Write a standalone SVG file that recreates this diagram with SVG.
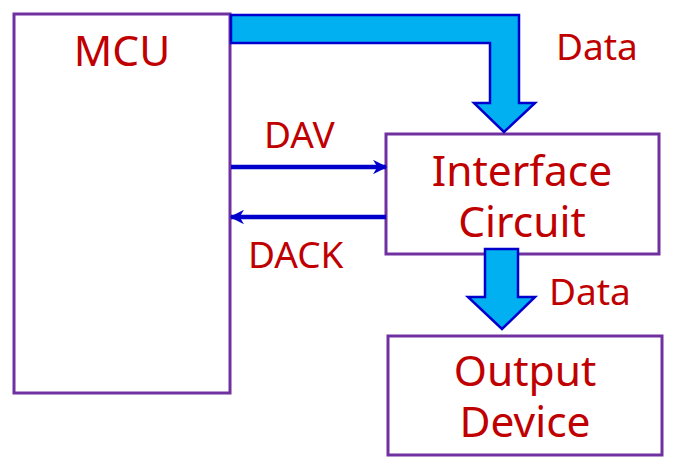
<svg xmlns="http://www.w3.org/2000/svg" width="675" height="468" viewBox="0 0 675 468">
<defs>
<style>
.box{fill:#fff;stroke:#7030A0;stroke-width:3}
.t{font-family:"Noto Sans","Open Sans",sans-serif;fill:#C00000}
.big{font-size:42.5px;text-anchor:middle}
.lab{font-size:37px}
.fat{fill:#00B0F0;stroke:#0000CC;stroke-width:2.5;stroke-linejoin:miter}
.sig{stroke:#0000CC;stroke-width:4.5;fill:none}
</style>
<marker id="ah" viewBox="0 0 10 10" refX="9" refY="5" markerWidth="3.2" markerHeight="3.2" orient="auto" markerUnits="strokeWidth">
<path d="M0,0 L10,5 L0,10 L3,5 Z" fill="#0000CC"/>
</marker>
</defs>
<g id="mcu">
<rect class="box" x="14" y="14" width="216" height="379"/>
<text class="t big" x="122" y="66">MCU</text>
</g>
<g id="interface">
<rect class="box" x="386" y="134" width="273" height="120"/>
<text class="t big" x="522" y="186">Interface</text>
<text class="t big" x="522" y="237">Circuit</text>
</g>
<g id="output">
<rect class="box" x="388" y="336" width="274" height="119"/>
<text class="t big" x="525" y="386">Output</text>
<text class="t big" x="525" y="437">Device</text>
</g>
<g id="connectors">
<path class="fat" d="M231,15 L519,15 L519,103 L535,103 L504,132 L474,103 L490,103 L490,43 L231,43 Z"/>
<path class="fat" d="M485,249 L518,249 L518,297 L535,297 L502,329 L468,297 L485,297 Z"/>
<line class="sig" x1="231" y1="167" x2="386" y2="167" marker-end="url(#ah)"/>
<line class="sig" x1="386" y1="217" x2="231" y2="217" marker-end="url(#ah)"/>
<text class="t lab" x="556" y="60">Data</text>
<text class="t lab" x="264" y="148">DAV</text>
<text class="t lab" x="248" y="268">DACK</text>
<text class="t lab" x="549" y="305">Data</text>
</g>
</svg>
